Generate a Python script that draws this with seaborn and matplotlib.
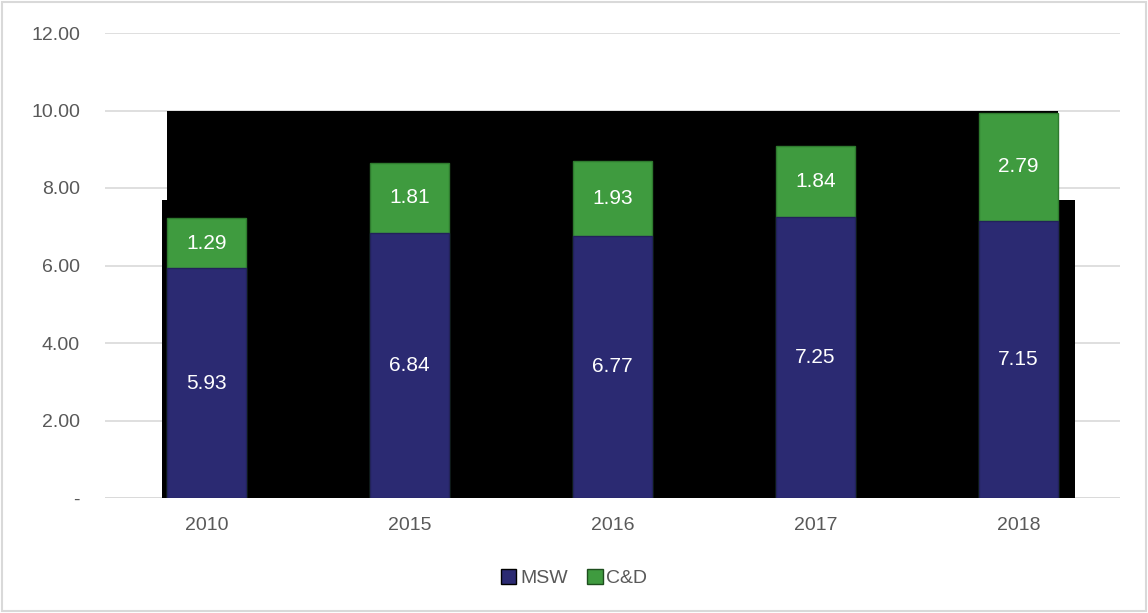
import matplotlib
matplotlib.use("Agg")
import matplotlib.pyplot as plt
from matplotlib.patches import Patch, Rectangle
import seaborn as sns
import pandas as pd
import numpy as np

years = ["2010", "2015", "2016", "2017", "2018"]
msw = [5.93, 6.84, 6.77, 7.25, 7.15]
cd = [1.29, 1.81, 1.93, 1.84, 2.79]
yticks = [0, 2, 4, 6, 8, 10, 12]
ytick_labels = ["-", "2.00", "4.00", "6.00", "8.00", "10.00", "12.00"]

blue = "#2B2A72"
green = "#3F9B3F"
gray_txt = "#595959"

sns.set_theme(style="white")
plt.rcParams["font.family"] = ["Liberation Sans", "DejaVu Sans"]

df = pd.DataFrame({"year": years, "msw": msw, "cd": cd})
df["total"] = df["msw"] + df["cd"]

fig = plt.figure(figsize=(11.48, 6.13), dpi=100)
ax = fig.add_axes([105 / 1148, 1 - 498 / 613, (1120 - 105) / 1148, (498 - 33) / 613])

bw = 0.39
n = len(years)
# dark backdrop region behind the bars (as in the reference rendering)
xs = [-bw / 2 - 0.025, -bw / 2 - 0.025, -bw / 2, -bw / 2, n - 1 + bw / 2, n - 1 + bw / 2,
      n - 1 + bw / 2 + 0.085, n - 1 + bw / 2 + 0.085]
ys = [0, 7.7, 7.7, 10.0, 10.0, 7.7, 7.7, 0]
ax.fill(xs, ys, color="black", zorder=1.5, lw=0)

sns.barplot(data=df, x="year", y="total", color=green, width=bw, ax=ax,
            saturation=1, zorder=2, edgecolor="#2E7A2E", linewidth=1)
sns.barplot(data=df, x="year", y="msw", color=blue, width=bw, ax=ax,
            saturation=1, zorder=3, edgecolor="#22225A", linewidth=1)

for i in range(n):
    ax.text(i, msw[i] / 2, f"{msw[i]:.2f}", ha="center", va="center",
            color="white", fontsize=15, zorder=5)
    ax.text(i, msw[i] + cd[i] / 2, f"{cd[i]:.2f}", ha="center", va="center",
            color="white", fontsize=15, zorder=5)

ax.set_ylim(0, 12)
ax.set_xlim(-0.5, n - 0.5)
ax.set_yticks(yticks)
ax.set_yticklabels(ytick_labels)
ax.yaxis.grid(True, color="#D9D9D9", linewidth=1.2, zorder=0)
ax.set_axisbelow(True)
for s in ["top", "right", "left", "bottom"]:
    ax.spines[s].set_visible(False)
ax.axhline(0, color="#D9D9D9", linewidth=1.2, zorder=1)
ax.tick_params(axis="both", length=0, labelsize=14, labelcolor=gray_txt)
ax.tick_params(axis="x", pad=14)
ax.tick_params(axis="y", pad=18)
ax.set_xlabel("")
ax.set_ylabel("")

handles = [Patch(facecolor=blue, edgecolor="black", label="MSW"),
           Patch(facecolor=green, edgecolor="#1E4E1E", label="C&D")]
leg = fig.legend(handles=handles, loc="center", bbox_to_anchor=(0.5, 1 - 578 / 613),
                 ncol=2, frameon=False, fontsize=14, handlelength=0.8, handleheight=0.8,
                 handletextpad=0.2, columnspacing=1.0)
for t in leg.get_texts():
    t.set_color(gray_txt)

fig.patches.append(Rectangle((0.002, 0.003), 0.996, 0.994, transform=fig.transFigure,
                             fill=False, edgecolor="#D9D9D9", linewidth=1.5))

fig.savefig("out.png", dpi=100)
